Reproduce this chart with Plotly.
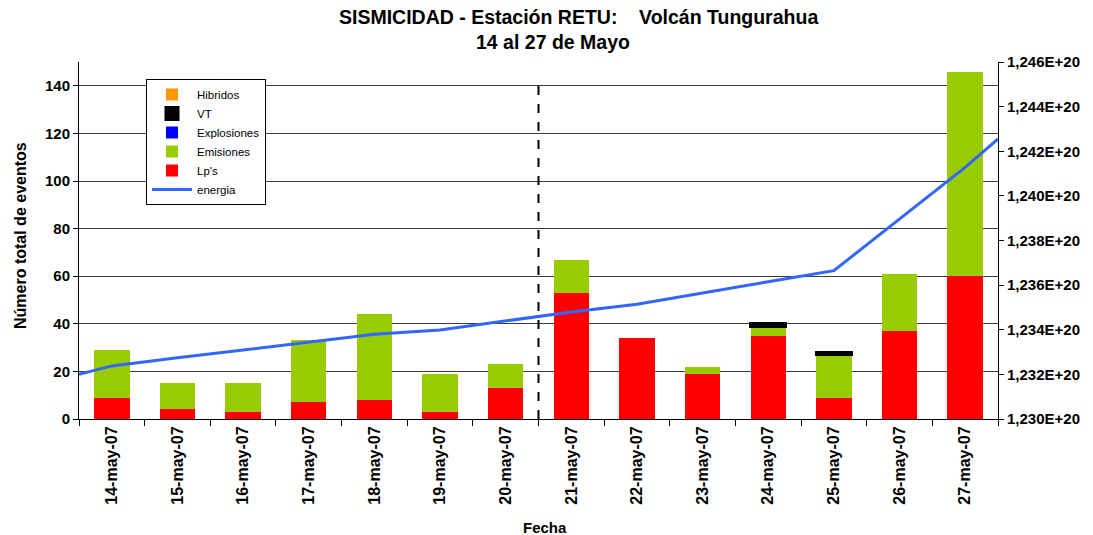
import plotly.graph_objects as go

fechas = ["14-may-07", "15-may-07", "16-may-07", "17-may-07", "18-may-07", "19-may-07", "20-may-07",
          "21-may-07", "22-may-07", "23-may-07", "24-may-07", "25-may-07", "26-may-07", "27-may-07"]
lps = [9, 4, 3, 7, 8, 3, 13, 53, 34, 19, 35, 9, 37, 60]
emisiones = [20, 11, 12, 26, 36, 16, 10, 14, 0, 3, 4, 18, 24, 86]
explosiones = [0] * 14
vt = [0, 0, 0, 0, 0, 0, 0, 0, 0, 0, 1, 1, 0, 0]
hibridos = [0] * 14

# energy (cumulative) sampled at fractional day positions (day index from 14-may = 0)
energia_pos = [-0.5, 0, 1, 2, 3, 4, 5, 6, 7, 8, 9, 10, 11, 12, 13, 13.5]
energia = [1.23200e20, 1.23238e20, 1.23274e20, 1.23309e20, 1.23345e20, 1.23380e20, 1.23399e20,
           1.23439e20, 1.23480e20, 1.23514e20, 1.23563e20, 1.23615e20, 1.23665e20, 1.23896e20,
           1.24128e20, 1.24255e20]

y_left_ticks = [0, 20, 40, 60, 80, 100, 120, 140]
y_right_ticks = [1.230e20, 1.232e20, 1.234e20, 1.236e20, 1.238e20, 1.240e20, 1.242e20, 1.244e20, 1.246e20]
y_right_labels = ["1,230E+20", "1,232E+20", "1,234E+20", "1,236E+20", "1,238E+20",
                  "1,240E+20", "1,242E+20", "1,244E+20", "1,246E+20"]
divisor_despues_de = "20-may-07"

titulo_1 = "SISMICIDAD - Estación RETU:&nbsp;&nbsp;&nbsp;&nbsp;Volcán Tungurahua"
titulo_2 = "14 al 27 de Mayo"

FONT = "Liberation Sans, Arial, sans-serif"

W, H = 1093, 535
L, T, R, B = 79, 62, 95, 116
PW, PH = W - L - R, H - T - B


def px_x(x):
    return (x - L) / PW


def px_y(y):
    return (H - B - y) / PH


fig = go.Figure()
fig.add_trace(go.Bar(x=fechas, y=lps, name="Lp's", marker=dict(color="#FF0000", line=dict(width=0)),
                     legendrank=5))
fig.add_trace(go.Bar(x=fechas, y=emisiones, name="Emisiones", marker=dict(color="#99CC00", line=dict(width=0)),
                     legendrank=4))
fig.add_trace(go.Bar(x=fechas, y=explosiones, name="Explosiones", marker=dict(color="#0000FF", line=dict(width=0)),
                     legendrank=3))
fig.add_trace(go.Bar(x=fechas, y=[v if v else None for v in vt], name="VT",
                     marker=dict(color="#000000", line=dict(width=3, color="#000000")),
                     legendrank=2))
fig.add_trace(go.Bar(x=fechas, y=hibridos, name="Hibridos", marker=dict(color="#FF9900", line=dict(width=0)),
                     legendrank=1))
fig.add_trace(go.Scatter(x=energia_pos, y=energia, name="energia", mode="lines",
                         line=dict(color="#3366FF", width=3), xaxis="x2", yaxis="y2",
                         legendrank=6))

div_idx = fechas.index(divisor_despues_de) + 0.5
fig.add_shape(type="line", xref="x2", yref="y", x0=div_idx, x1=div_idx, y0=0, y1=142,
              line=dict(color="black", width=2, dash="dash"))

fig.add_annotation(text="<b>" + titulo_1 + "</b>", xref="paper", yref="paper",
                   x=px_x(578), y=px_y(17), xanchor="center", yanchor="middle",
                   showarrow=False, font=dict(size=19.5, family=FONT))
fig.add_annotation(text="<b>" + titulo_2 + "</b>", xref="paper", yref="paper",
                   x=px_x(553), y=px_y(42), xanchor="center", yanchor="middle",
                   showarrow=False, font=dict(size=19.5, family=FONT))
fig.add_annotation(text="<b>Fecha</b>", xref="paper", yref="paper",
                   x=px_x(545), y=px_y(527), xanchor="center", yanchor="middle",
                   showarrow=False, font=dict(size=15, family=FONT))
fig.add_annotation(text="<b>Número total de eventos</b>", xref="paper", yref="paper",
                   x=px_x(20), y=px_y(236), xanchor="center", yanchor="middle", textangle=-90,
                   showarrow=False, font=dict(size=16, family=FONT))

fig.update_layout(
    width=W, height=H,
    margin=dict(l=L, r=R, t=T, b=B, autoexpand=False),
    paper_bgcolor="white", plot_bgcolor="white",
    barmode="stack", bargap=0.46,
    font=dict(family=FONT, color="black"),
    xaxis=dict(type="category", tickson="boundaries", ticks="outside", ticklen=6, tickcolor="black",
               showline=True, linecolor="black", linewidth=1, tickangle=-90,
               tickfont=dict(size=16, family=FONT, weight="bold"), showgrid=False,
               range=[-0.5, 13.5]),
    xaxis2=dict(overlaying="x", range=[-0.5, 13.5], visible=False),
    yaxis=dict(range=[0, 150], tickvals=y_left_ticks, ticks="outside", ticklen=5, tickcolor="black",
               showline=True, linecolor="black", linewidth=1, showgrid=True, gridcolor="#3a3a3a",
               gridwidth=1, zeroline=False, tickfont=dict(size=15, family=FONT, weight="bold")),
    yaxis2=dict(overlaying="y", side="right", range=[1.230e20, 1.246e20], tickvals=y_right_ticks,
                ticktext=y_right_labels, ticks="outside", ticklen=5, tickcolor="black",
                showline=True, linecolor="black", linewidth=1, showgrid=False, zeroline=False,
                tickfont=dict(size=15, family=FONT, weight="bold")),
    legend=dict(x=px_x(146), y=px_y(79), xanchor="left", yanchor="top", bgcolor="white",
                bordercolor="black", borderwidth=1, font=dict(size=11.5, family=FONT),
                tracegroupgap=0, itemwidth=40, traceorder="normal"),
    showlegend=True,
)

fig.write_html("out.html", config={"displayModeBar": False},
               post_script="document.body.style.margin='0';document.body.style.overflow='hidden';")
